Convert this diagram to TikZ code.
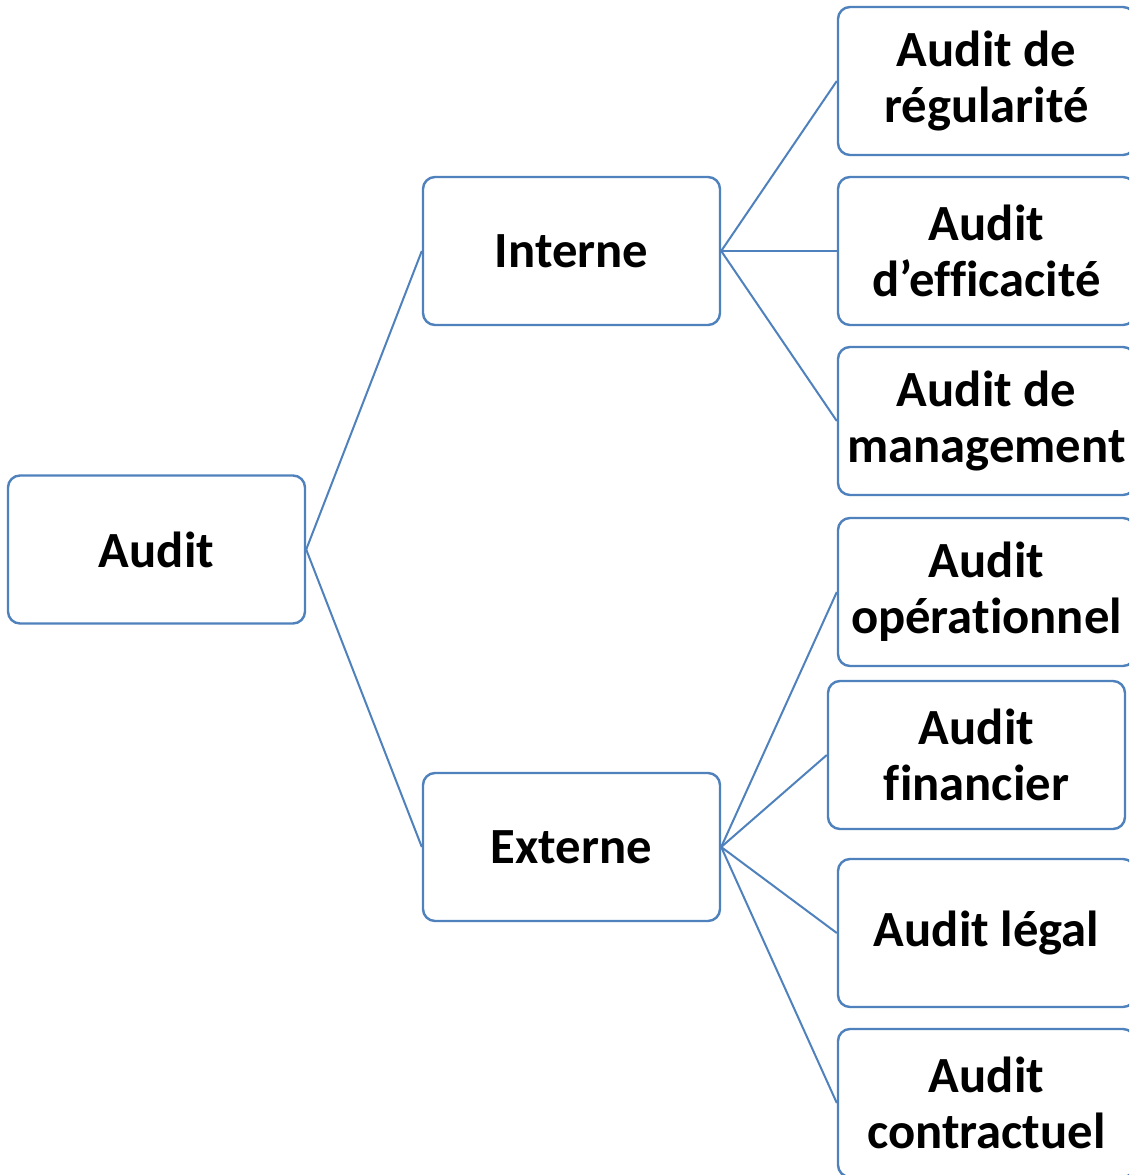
\documentclass[tikz,border=0pt]{standalone}
\usepackage{fontspec}
\setmainfont{Carlito}[Ligatures=NoCommon]
\definecolor{boxblue}{HTML}{4F81BD}
\tikzset{
  px/.style={x=0.75pt,y=-0.75pt},
  auditbox/.style={draw=boxblue, line width=1.8pt, rounded corners=9pt, fill=white,
    minimum width=222.75pt, minimum height=111pt, inner sep=0pt, align=center,
    font=\fontsize{38pt}{42pt}\selectfont\bfseries},
  link/.style={draw=boxblue, line width=1.5pt}
}
\begin{document}
\begin{tikzpicture}[px]
\useasboundingbox (0,0) rectangle (1129,1175);
\clip (0,0) rectangle (1129,1175);
\node[auditbox] (audit) at (156.5,549.5) {Audit};
\node[auditbox] (interne) at (571.5,251) {Interne};
\node[auditbox] (externe) at (571.5,847) {Externe};
\node[auditbox] (reg) at (986.5,81) {Audit de\\régularité};
\node[auditbox] (eff) at (986.5,251) {Audit\\d’efficacité};
\node[auditbox] (man) at (986.5,421) {Audit de\\management};
\node[auditbox] (ope) at (986.5,592) {Audit\\opérationnel};
\node[auditbox] (fin) at (976.5,755) {Audit\\financier};
\node[auditbox] (leg) at (986.5,933) {Audit légal};
\node[auditbox] (con) at (986.5,1103) {Audit\\contractuel};
\draw[link] (audit.east) -- (interne.west);
\draw[link] (audit.east) -- (externe.west);
\draw[link] (interne.east) -- (reg.west);
\draw[link] (interne.east) -- (eff.west);
\draw[link] (interne.east) -- (man.west);
\draw[link] (externe.east) -- (ope.west);
\draw[link] (externe.east) -- (fin.west);
\draw[link] (externe.east) -- (leg.west);
\draw[link] (externe.east) -- (con.west);
\end{tikzpicture}
\end{document}
